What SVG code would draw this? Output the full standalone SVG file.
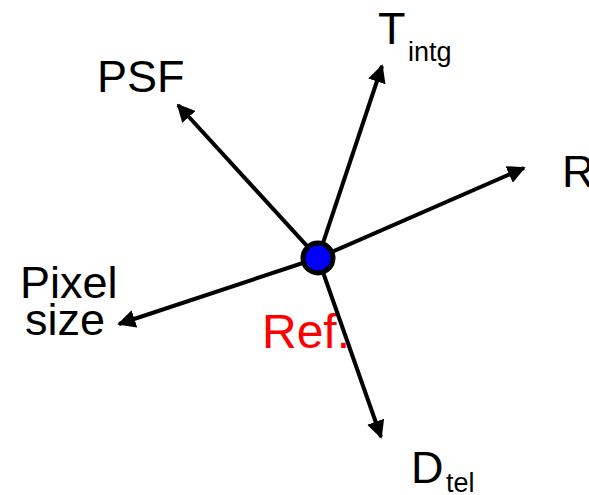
<svg xmlns="http://www.w3.org/2000/svg" width="589" height="495" viewBox="0 0 589 495">
<style>
.c{stroke:#000;stroke-width:4;fill:none;marker-end:url(#ah)}
text{font-family:"Liberation Sans",Arial,sans-serif;fill:#000}
.l{font-size:45px}
.s{font-size:27px}
</style>
<defs>
<marker id="ah" viewBox="0 0 10 10" refX="9" refY="5" markerWidth="4.5" markerHeight="4.5" orient="auto" markerUnits="strokeWidth">
<path d="M0,0 L10,5 L0,10 z" fill="#000"/>
</marker>
</defs>
<rect width="589" height="495" fill="#fff"/>
<g id="ref-label"><text x="262" y="348" style="fill:#ff0000;font-size:48px">Ref.</text></g>
<g id="connectors">
<line class="c" x1="318" y1="258" x2="178" y2="105"/>
<line class="c" x1="318" y1="258" x2="382" y2="66"/>
<line class="c" x1="318" y1="258" x2="524" y2="168"/>
<line class="c" x1="318" y1="258" x2="119" y2="324"/>
<line class="c" x1="318" y1="258" x2="381" y2="437"/>
</g>
<g id="ref"><circle cx="318" cy="258" r="15" fill="#0000ff" stroke="#000" stroke-width="5"/></g>
<g id="psf"><text x="97" y="92" class="l">PSF</text></g>
<g id="tintg"><text x="378" y="44" class="l">T</text><text x="408" y="61" class="s">intg</text></g>
<g id="r"><text x="562" y="187" class="l">R</text></g>
<g id="pixel"><text x="20" y="298" class="l">Pixel</text><text x="25" y="335" class="l">size</text></g>
<g id="dtel"><text x="411" y="483" class="l">D</text><text x="446" y="492" class="s">tel</text></g>
</svg>
